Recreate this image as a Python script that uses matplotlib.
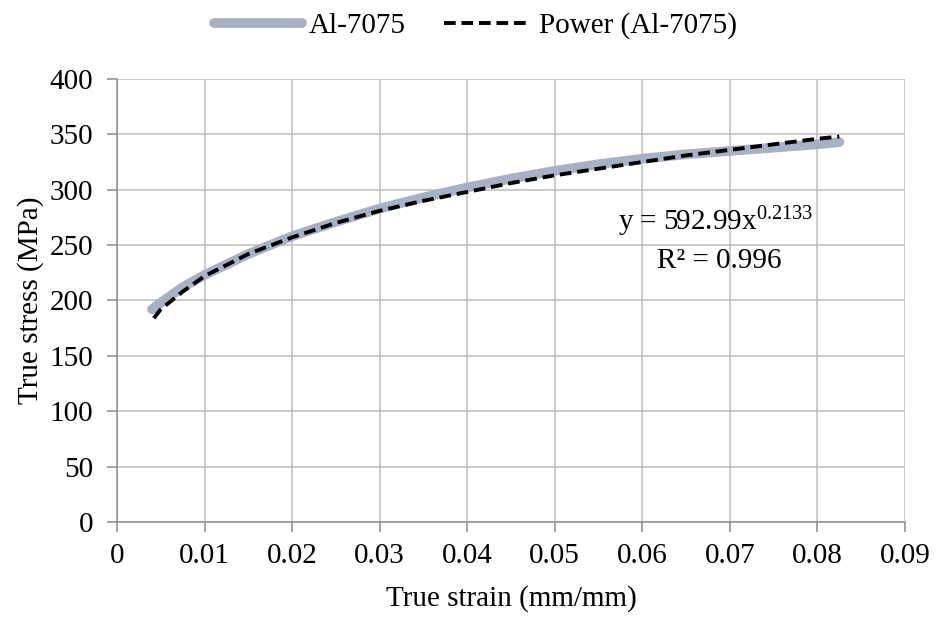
import matplotlib
matplotlib.use("Agg")
import matplotlib.pyplot as plt

strain = [0.004, 0.005, 0.0075, 0.01, 0.015, 0.02, 0.025, 0.03, 0.035, 0.04,
          0.045, 0.05, 0.055, 0.06, 0.065, 0.07, 0.075, 0.08, 0.0825]
stress = [192, 198, 212, 223, 242, 258, 271, 283, 293, 302,
          310, 317, 323, 328, 332, 335, 338, 341, 343]

# power trend line
fit_strain = [0.0042, 0.005, 0.0075, 0.01, 0.015, 0.02, 0.025, 0.03, 0.035, 0.04,
              0.045, 0.05, 0.055, 0.06, 0.065, 0.07, 0.075, 0.08, 0.0825]
fit_stress = [184, 192, 208, 222, 242, 257, 270, 281, 290, 298,
              306, 313, 319, 325, 331, 336, 341, 346, 348]

xticks = [0, 0.01, 0.02, 0.03, 0.04, 0.05, 0.06, 0.07, 0.08, 0.09]
xtick_labels = ["0", "0.01", "0.02", "0.03", "0.04", "0.05", "0.06", "0.07", "0.08", "0.09"]
yticks = [0, 50, 100, 150, 200, 250, 300, 350, 400]

plt.rcParams['font.family'] = ['Liberation Serif', 'DejaVu Serif']
plt.rcParams['mathtext.fontset'] = 'custom'
plt.rcParams['mathtext.rm'] = 'Liberation Serif'

FS = 21

fig = plt.figure(figsize=(9.48, 6.17), dpi=100)
ax = fig.add_axes([0.1234, 0.154, 0.8312, 0.718])

ax.plot(strain, stress, color='#A7B1C4', linewidth=7, solid_capstyle='round',
        label='Al-7075', zorder=3)
ax.plot(fit_strain, fit_stress, color='black', linewidth=2.8, linestyle=(0, (3, 1.5)),
        label='Power (Al-7075)', zorder=4)

ax.set_xlim(0, 0.09)
ax.set_ylim(0, 400)
ax.set_xticks(xticks)
ax.set_xticklabels(xtick_labels)
ax.set_yticks(yticks)
ax.grid(True, color='#BDBDBD', linewidth=1.1)
ax.set_axisbelow(True)

for side in ['top', 'right']:
    ax.spines[side].set_visible(False)
for side in ['left', 'bottom']:
    ax.spines[side].set_color('#8C8C8C')
    ax.spines[side].set_linewidth(1.1)

ax.tick_params(axis='both', direction='out', length=7, width=1.1, color='#8C8C8C',
               labelsize=FS)
ax.tick_params(axis='y', pad=10)
ax.tick_params(axis='x', pad=8)

ax.set_xlabel('True strain (mm/mm)', fontsize=FS, labelpad=12)
ax.set_ylabel('True stress (MPa)', fontsize=FS, labelpad=4)

ax.text(0.0684, 271, r'y = 592.99x$\mathregular{^{0.2133}}$', fontsize=FS,
        ha='center', va='center')
ax.text(0.0688, 236, 'R² = 0.996', fontsize=FS, ha='center', va='center')

ax.legend(loc='lower center', bbox_to_anchor=(0.455, 1.03), ncol=2, frameon=False,
          fontsize=FS, handlelength=3.0, columnspacing=1.3, handletextpad=0.25)

plt.savefig('out.png', dpi=100)
